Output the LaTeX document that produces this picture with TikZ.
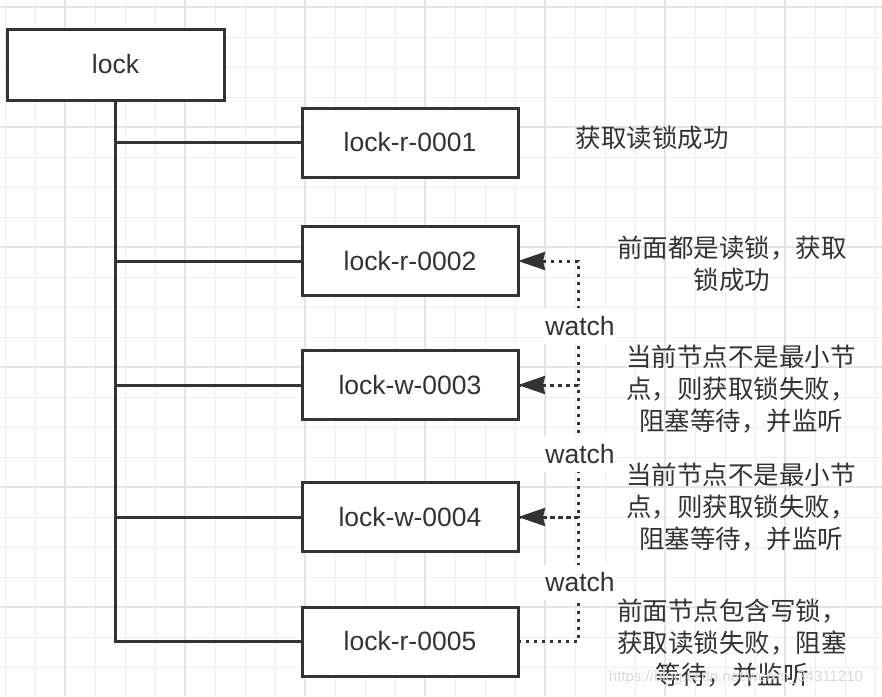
\documentclass[tikz,border=0pt]{standalone}
\usepackage{fontspec}
\setmainfont{Liberation Sans}
\newfontfamily\cjk{Noto Sans CJK SC}
\usetikzlibrary{arrows.meta}
\definecolor{ink}{HTML}{333333}
\definecolor{gridthin}{HTML}{EEEEEE}
\definecolor{gridthick}{HTML}{E4E4E4}
\begin{document}
\begin{tikzpicture}[x=1pt,y=-1pt,
  box/.style={draw=ink, line width=3pt, fill=white, minimum width=216pt, minimum height=69pt,
    inner sep=0pt, outer sep=0pt, text=ink, font=\fontsize{26.5}{30}\selectfont},
  trunk/.style={draw=ink, line width=3pt},
  watchline/.style={draw=ink, line width=3pt, dash pattern=on 3pt off 5pt,
    -{Stealth[length=27pt,width=18pt,inset=2pt]}},
  watchlabel/.style={fill=white, text=ink, inner xsep=2pt, inner ysep=8pt, xshift=2pt, yshift=-3pt,
    font=\fontsize{26.5}{30}\selectfont},
  note/.style={text=ink, align=center, inner sep=0pt, font=\cjk\fontsize{25.5}{32}\selectfont},
  wmark/.style={text=gray!30, inner sep=0pt, font=\fontsize{15}{18}\selectfont}]
\useasboundingbox (0,0) rectangle (882,696);
\fill[white] (0,0) rectangle (882,696);
\foreach \x in {5,35,...,875} \draw[gridthin, line width=1pt] (\x,0) -- (\x,696);
\foreach \y in {7,37,...,696} \draw[gridthin, line width=1pt] (0,\y) -- (882,\y);
\foreach \x in {65,185,...,785} \draw[gridthick, line width=1.5pt] (\x,0) -- (\x,696);
\foreach \y in {7,127,...,607} \draw[gridthick, line width=1.5pt] (0,\y) -- (882,\y);

\node[box, minimum width=217pt, minimum height=71pt] (lock) at (115.5,64.5) {lock};
\node[box] (b1) at (410,142.5) {lock-r-0001};
\node[box] (b2) at (410,261) {lock-r-0002};
\node[box] (b3) at (410,385) {lock-w-0003};
\node[box] (b4) at (410,517) {lock-w-0004};
\node[box] (b5) at (410,641.5) {lock-r-0005};

\draw[trunk] (lock.south) |- (b5.west);
\foreach \n in {b1,b2,b3,b4} \draw[trunk] (lock.south |- \n.west) -- (\n.west);

\draw[watchline] (b5.east) -- ++(60,0) |- node[watchlabel, pos=0.25] {watch} (b4.east);
\draw[watchline] (b4.east) -- ++(60,0) |- node[watchlabel, pos=0.25] {watch} (b3.east);
\draw[watchline] (b3.east) -- ++(60,0) |- node[watchlabel, pos=0.25] {watch} (b2.east);

\node[note] (t1) at (652,138) {获取读锁成功};
\node[note] (t2) at (732,263.5) {前面都是读锁，获取\\锁成功};
\node[note] (t3) at (741,389) {当前节点不是最小节\\点，则获取锁失败，\\阻塞等待，并监听};
\node[note] (t4) at (741,507) {当前节点不是最小节\\点，则获取锁失败，\\阻塞等待，并监听};
\node[note] (t5) at (732,643) {前面节点包含写锁，\\获取读锁失败，阻塞\\等待，并监听};

\node[wmark] (wm) at (736,678) {https://blog.csdn.net/weixin\_34311210};
\end{tikzpicture}
\end{document}
